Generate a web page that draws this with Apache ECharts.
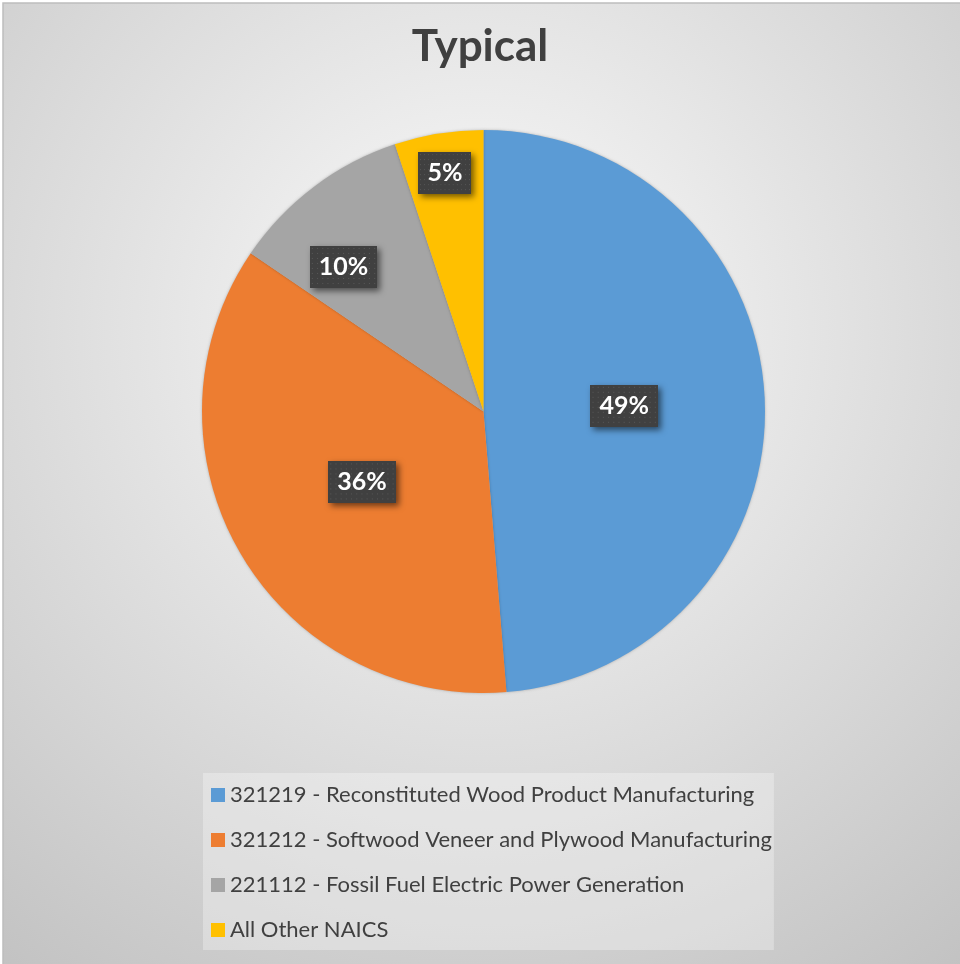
<!DOCTYPE html>
<html>
<head>
<meta charset="utf-8">
<script src="https://cdn.jsdelivr.net/npm/echarts@6/dist/echarts.min.js"></script>
<style>html,body{margin:0;padding:0;background:#fff;}#main{width:960px;height:964px;}</style>
</head>
<body>
<div id="main"></div>
<script>
const titleText = 'Typical';
const categories = [
  '321219 - Reconstituted Wood Product Manufacturing',
  '321212 - Softwood Veneer and Plywood Manufacturing',
  '221112 - Fossil Fuel Electric Power Generation',
  'All Other NAICS'
];
const values = [48.7, 35.8, 10.4, 5.1];
const colors = ['#5B9BD5', '#ED7D31', '#A5A5A5', '#FFC000'];
const labelRadius = [0.5, 0.5, 0.715, 0.858];
const labelAngleShift = [0, 0, -7, 0];

const CX = 483.5, CY = 411.5, R = 281.5;
const FONT = 'Lato';

// dotted pattern for label boxes
const pc = document.createElement('canvas');
pc.width = 65; pc.height = 42;
const pctx = pc.getContext('2d');
pctx.fillStyle = '#404040'; pctx.fillRect(0, 0, pc.width, pc.height);
pctx.fillStyle = '#585858';
for (let x = 2; x < pc.width; x += 5) for (let y = 2; y < pc.height; y += 5) pctx.fillRect(x, y, 1, 1);

const total = values.reduce((a, b) => a + b, 0);

const chart = echarts.init(document.getElementById('main'), null, {renderer: 'canvas'});
chart.setOption({
  backgroundColor: '#ffffff',
  animation: false,
  graphic: [{
    type: 'rect', z: -10, silent: true,
    shape: {x: 3, y: 3, width: 970, height: 980},
    style: {
      fill: {type: 'radial', x: 480, y: 330, r: 800, global: true,
        colorStops: [{offset: 0, color: '#fcfcfc'}, {offset: 1, color: '#c2c2c2'}]},
      stroke: '#bdbdbd', lineWidth: 1.5
    }
  }],
  title: {
    text: titleText, left: 'center', top: 20,
    textStyle: {fontFamily: FONT, fontWeight: 'bold', fontSize: 44, color: '#404040'}
  },
  legend: {
    orient: 'vertical', left: 203, top: 773,
    padding: [10, 2, 8, 8],
    backgroundColor: 'rgba(255,255,255,0.3)',
    itemWidth: 14, itemHeight: 14, itemGap: 21,
    icon: 'rect',
    textStyle: {fontFamily: FONT, fontSize: 22, color: '#404040', lineHeight: 24},
    data: categories
  },
  series: [{
    type: 'pie',
    center: [CX, CY], radius: R,
    startAngle: 90, clockwise: true,
    avoidLabelOverlap: false,
    itemStyle: {borderWidth: 0, shadowBlur: 3, shadowColor: 'rgba(0,0,0,0.25)'},
    emphasis: {disabled: true},
    label: {
      show: true, position: 'inside',
      formatter: p => Math.round(p.value) + '%',
      fontFamily: FONT, fontWeight: 'bold', fontSize: 25, color: '#ffffff',
      backgroundColor: {image: pc},
      padding: [9, 9, 8, 9],
      shadowColor: 'rgba(0,0,0,0.55)', shadowBlur: 6, shadowOffsetX: 3, shadowOffsetY: 3
    },
    labelLine: {show: false},
    labelLayout: function (params) {
      const i = params.dataIndex;
      let start = 0;
      for (let k = 0; k < i; k++) start += values[k];
      const mid = (start + values[i] / 2) / total * 360 + labelAngleShift[i];
      const rad = mid * Math.PI / 180;
      const r = R * labelRadius[i];
      return {x: CX + r * Math.sin(rad), y: CY - r * Math.cos(rad)};
    },
    data: categories.map((c, i) => ({name: c, value: values[i], itemStyle: {color: colors[i]}}))
  }]
});
</script>
</body>
</html>
